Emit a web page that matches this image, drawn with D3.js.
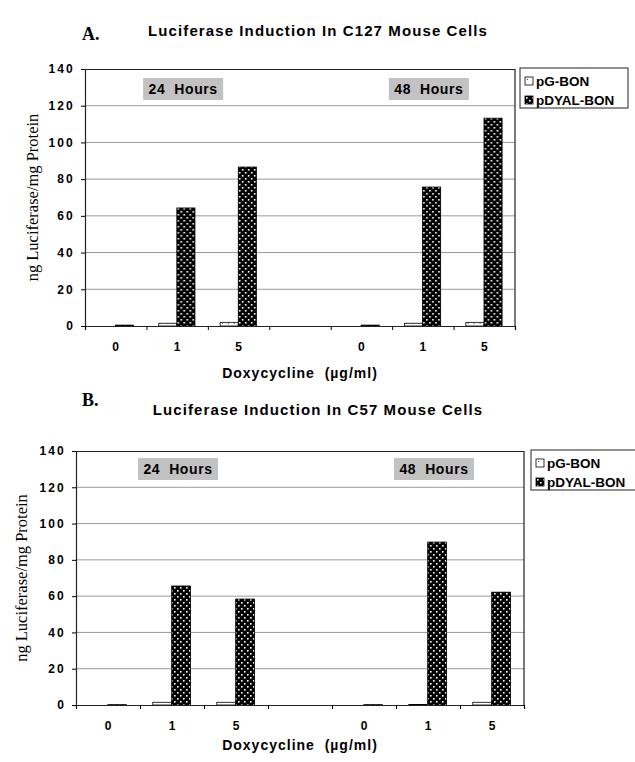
<!DOCTYPE html>
<html>
<head>
<meta charset="utf-8">
<script src="https://cdn.jsdelivr.net/npm/d3@7"></script>
<style>
  body { margin: 0; background: #fff; }
  .tick text { font-family: "Liberation Sans", Arial, sans-serif; font-weight: bold; }
  .sans { font-family: "Liberation Sans", Arial, sans-serif; font-weight: bold; white-space: pre; }
  .serif { font-family: "Liberation Serif", "Times New Roman", serif; }
</style>
</head>
<body>
<svg id="fig" width="635" height="762"></svg>
<script>
(function(){

// categories along the x axis (two time points, separated by an empty slot)
let categories = ["0", "1", "5", "", "0", "1", "5"];
let seriesNames = ["pG-BON", "pDYAL-BON"];
let timeLabels = ["24  Hours", "48  Hours"];
let yTicks = [0, 20, 40, 60, 80, 100, 120, 140];

// panel A : C127 cells
let c127_pG    = [0, 1.5, 2.0, 0, 0, 1.5, 2.0];
let c127_pDYAL = [0.5, 64.3, 86.6, 0, 0.5, 75.7, 113.2];

// panel B : C57 cells
let c57_pG    = [0, 1.5, 1.5, 0, 0, 0.3, 1.5];
let c57_pDYAL = [0.2, 65.6, 58.4, 0, 0.2, 89.8, 62.2];

let svg = d3.select("#fig");

// dotted fill for the bars
let defs = svg.append("defs");
let dark = defs.append("pattern")
    .attr("id", "darkdots")
    .attr("patternUnits", "userSpaceOnUse")
    .attr("width", 6).attr("height", 6);
dark.append("rect").attr("width", 6).attr("height", 6).attr("fill", "#000");
dark.append("rect").attr("x", 1).attr("y", 1).attr("width", 1.6).attr("height", 1.6).attr("fill", "#fff");
dark.append("rect").attr("x", 4).attr("y", 4).attr("width", 1.6).attr("height", 1.6).attr("fill", "#fff");

let light = defs.append("pattern")
    .attr("id", "lightdots")
    .attr("patternUnits", "userSpaceOnUse")
    .attr("width", 6).attr("height", 6);
light.append("rect").attr("width", 6).attr("height", 6).attr("fill", "#fff");
light.append("rect").attr("x", 2).attr("y", 2).attr("width", 1).attr("height", 1).attr("fill", "#555");

function drawPanel(cfg)
{
  let left = cfg.left, top = cfg.top, width = cfg.width, height = cfg.height;

  // letter + title
  svg.append("text")
      .attr("class", "serif")
      .attr("x", cfg.letterX).attr("y", cfg.letterY)
      .style("font-size", "18px").style("font-weight", "bold")
      .text(cfg.letter);

  svg.append("text")
      .attr("class", "sans")
      .attr("x", 318).attr("y", cfg.titleY)
      .attr("text-anchor", "middle")
      .style("font-size", "15px").style("letter-spacing", "1.1px")
      .text(cfg.title);

  let g = svg.append("g")
      .attr("transform", "translate(" + left + "," + top + ")");

  let x = d3.scaleBand().domain(d3.range(categories.length)).range([0, width]);
  let bw = x.bandwidth();
  let xInner = d3.scaleBand().domain(seriesNames).range([bw * 0.2, bw * 0.79]);
  let xb = d3.scaleLinear().domain([0, categories.length]).range([0, width]);
  let y = d3.scaleLinear().domain([0, 140]).range([height, 0]);

  // gridlines
  g.append("g")
    .selectAll("line")
    .data(yTicks.filter(d => d > 0 && d < 140))
    .enter().append("line")
      .attr("x1", 0).attr("x2", width)
      .attr("y1", d => y(d)).attr("y2", d => y(d))
      .attr("stroke", "#999")
      .attr("stroke-width", 1);

  // frame top and right
  g.append("path")
      .attr("d", "M0,0.5H" + width + "V" + height)
      .attr("fill", "none")
      .attr("stroke", "#222")
      .attr("stroke-width", 1.2);

  // bars
  let series = [cfg.pG, cfg.pDYAL];
  let cat = g.selectAll("g.cat")
    .data(d3.range(categories.length))
    .enter().append("g")
      .attr("class", "cat")
      .attr("transform", i => "translate(" + x(i) + ",0)");

  cat.selectAll("rect")
    .data(i => seriesNames.map((s, k) => ({s: s, v: series[k][i]})))
    .enter().append("rect")
      .attr("x", d => xInner(d.s))
      .attr("width", xInner.bandwidth())
      .attr("y", d => y(d.v))
      .attr("height", d => height - y(d.v))
      .attr("fill", d => d.s === "pG-BON" ? "url(#lightdots)" : "url(#darkdots)")
      .attr("stroke", "#000")
      .attr("stroke-width", 0.8);

  // y axis
  let yAxis = g.append("g")
      .call(d3.axisLeft(y).tickValues(yTicks).tickSize(4).tickPadding(6));
  yAxis.selectAll("text").style("font-size", "12px").style("letter-spacing", "2.2px");
  yAxis.select(".domain").attr("stroke", "#222").attr("stroke-width", 1.2);

  // x axis : ticks at the slot boundaries, labels at the centres
  let xTicks = g.append("g")
      .attr("transform", "translate(0," + height + ")")
      .call(d3.axisBottom(xb).ticks(categories.length).tickFormat("").tickSize(4));
  xTicks.select(".domain").attr("stroke", "#222").attr("stroke-width", 1.2);

  let xLabels = g.append("g")
      .attr("transform", "translate(0," + height + ")")
      .call(d3.axisBottom(x).tickSize(0).tickPadding(16).tickFormat(i => categories[i]));
  xLabels.select(".domain").remove();
  xLabels.selectAll("text").style("font-size", "12px");

  // time point boxes
  [1, 5].forEach((ci, k) => {
    let cx = x(ci) + bw / 2 + 6;
    g.append("rect")
        .attr("x", cx - 40).attr("y", cfg.hoursY)
        .attr("width", 80).attr("height", 22)
        .attr("fill", "#c2c2c2");
    g.append("text")
        .attr("class", "sans")
        .attr("x", cx).attr("y", cfg.hoursY + 16)
        .attr("text-anchor", "middle")
        .style("font-size", "14px").style("letter-spacing", "0.6px")
        .text(timeLabels[k]);
  });

  // axis titles
  svg.append("text")
      .attr("class", "serif")
      .attr("transform", "translate(" + cfg.yTitleX + "," + (top + height / 2) + ") rotate(-90)")
      .attr("text-anchor", "middle")
      .style("font-size", "16.5px")
      .text("ng Luciferase/mg Protein");

  svg.append("text")
      .attr("class", "sans")
      .attr("x", left + width / 2).attr("y", cfg.xTitleY)
      .attr("text-anchor", "middle")
      .style("font-size", "14px").style("letter-spacing", "1px")
      .text("Doxycycline  (\u00b5g/ml)");

  // legend
  let lg = svg.append("g")
      .attr("transform", "translate(" + cfg.legX + "," + cfg.legY + ")");
  lg.append("rect")
      .attr("width", cfg.legW).attr("height", 40)
      .attr("fill", "#fff").attr("stroke", "#222").attr("stroke-width", 1);
  let item = lg.selectAll("g.item")
    .data(seriesNames)
    .enter().append("g")
      .attr("class", "item")
      .attr("transform", (d, i) => "translate(5," + (9 + i * 19) + ")");
  item.append("rect")
      .attr("width", 8).attr("height", 8)
      .attr("fill", d => d === "pG-BON" ? "url(#lightdots)" : "url(#darkdots)")
      .attr("stroke", "#000").attr("stroke-width", 0.8);
  item.append("text")
      .attr("class", "sans")
      .attr("x", 11).attr("y", 9)
      .style("font-size", "13.5px")
      .text(d => d);
}

drawPanel({
  letter: "A.", letterX: 82, letterY: 40,
  title: "Luciferase Induction In C127 Mouse Cells", titleY: 36,
  left: 85, top: 69, width: 430, height: 257,
  pG: c127_pG, pDYAL: c127_pDYAL,
  hoursY: 9, yTitleX: 38, xTitleY: 378,
  legX: 520, legY: 68, legW: 108
});

drawPanel({
  letter: "B.", letterX: 82, letterY: 406,
  title: "Luciferase Induction In C57 Mouse Cells", titleY: 415,
  left: 76, top: 451, width: 448, height: 254,
  pG: c57_pG, pDYAL: c57_pDYAL,
  hoursY: 7, yTitleX: 27, xTitleY: 750,
  legX: 531, legY: 450, legW: 106
});

})();
</script>
</body>
</html>
